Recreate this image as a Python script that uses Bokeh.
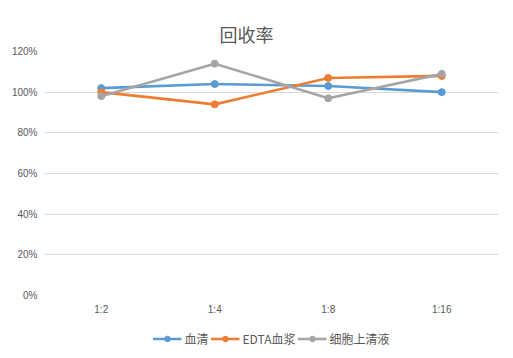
from bokeh.plotting import figure
from bokeh.layouts import column
from bokeh.models import Legend, LegendItem, PrintfTickFormatter, FactorRange, FixedTicker
from bokeh.embed import file_html
from bokeh.resources import INLINE

categories = ["1:2", "1:4", "1:8", "1:16"]
serum = [102, 104, 103, 100]
edta_plasma = [100, 94, 107, 108]
cell_supernatant = [98, 114, 97, 109]
series_names = ["血清", "EDTA血浆", "细胞上清液"]
colors = ["#5B9BD5", "#ED7D31", "#A5A5A5"]
y_ticks = [0, 20, 40, 60, 80, 100, 120]

TXT = "#595959"
p = figure(x_range=FactorRange(*categories, range_padding=0), y_range=(0, 120),
           width=512, height=325,
           min_border_left=44, min_border_right=14, min_border_top=51, min_border_bottom=30,
           output_backend="svg", toolbar_location=None,
           title="回收率")
p.outline_line_color = None
p.background_fill_color = "white"
p.border_fill_color = "white"

p.title.align = "left"
p.title.offset = 175
p.title.standoff = 10
p.title.text_font = "Noto Sans CJK SC"
p.title.text_font_size = "18px"
p.title.text_font_style = "normal"
p.title.text_color = TXT

p.xgrid.grid_line_color = None
p.ygrid.grid_line_color = "#D9D9D9"
p.ygrid.grid_line_width = 1
p.yaxis.ticker = FixedTicker(ticks=y_ticks)
p.yaxis.formatter = PrintfTickFormatter(format="%d%%")
for ax in (p.xaxis, p.yaxis):
    ax.axis_line_color = None
    ax.major_tick_line_color = None
    ax.minor_tick_line_color = None
    ax.major_tick_in = 0
    ax.major_tick_out = 0
    ax.major_label_text_font = "Liberation Sans"
    ax.major_label_text_font_size = "10px"
    ax.major_label_text_color = TXT
p.yaxis.major_label_standoff = 7
p.xaxis.major_label_standoff = 8

all_series = [serum, edta_plasma, cell_supernatant]
for vals, c in zip(all_series, colors):
    p.line(categories, vals, line_color=c, line_width=2.6)
    p.scatter(categories, vals, size=7, fill_color=c, line_color=c)

# legend strip (glyphs drawn out of view, only used for the legend)
lg = figure(x_range=FactorRange(*categories, range_padding=0), y_range=(1000, 1001),
            width=512, height=26, min_border=0,
            x_axis_type=None, y_axis_type=None,
            output_backend="svg", toolbar_location=None)
lg.outline_line_color = None
lg.grid.grid_line_color = None
lg.background_fill_color = "white"
lg.border_fill_color = "white"
items = []
for name, vals, c in zip(series_names, all_series, colors):
    l = lg.line(categories, vals, line_color=c, line_width=2.6)
    s = lg.scatter(categories, vals, size=7, fill_color=c, line_color=c)
    items.append(LegendItem(label=name, renderers=[l, s]))
legend = Legend(items=items, orientation="horizontal", location="center",
                glyph_width=29, glyph_height=14, label_standoff=3, spacing=2,
                padding=0, margin=0, border_line_color=None, background_fill_alpha=0,
                label_text_font="Noto Sans CJK SC", label_text_font_size="12px",
                label_text_color=TXT)
lg.add_layout(legend, "center")

layout = column(p, lg, spacing=0)
open("out.html", "w").write(file_html(layout, INLINE))
